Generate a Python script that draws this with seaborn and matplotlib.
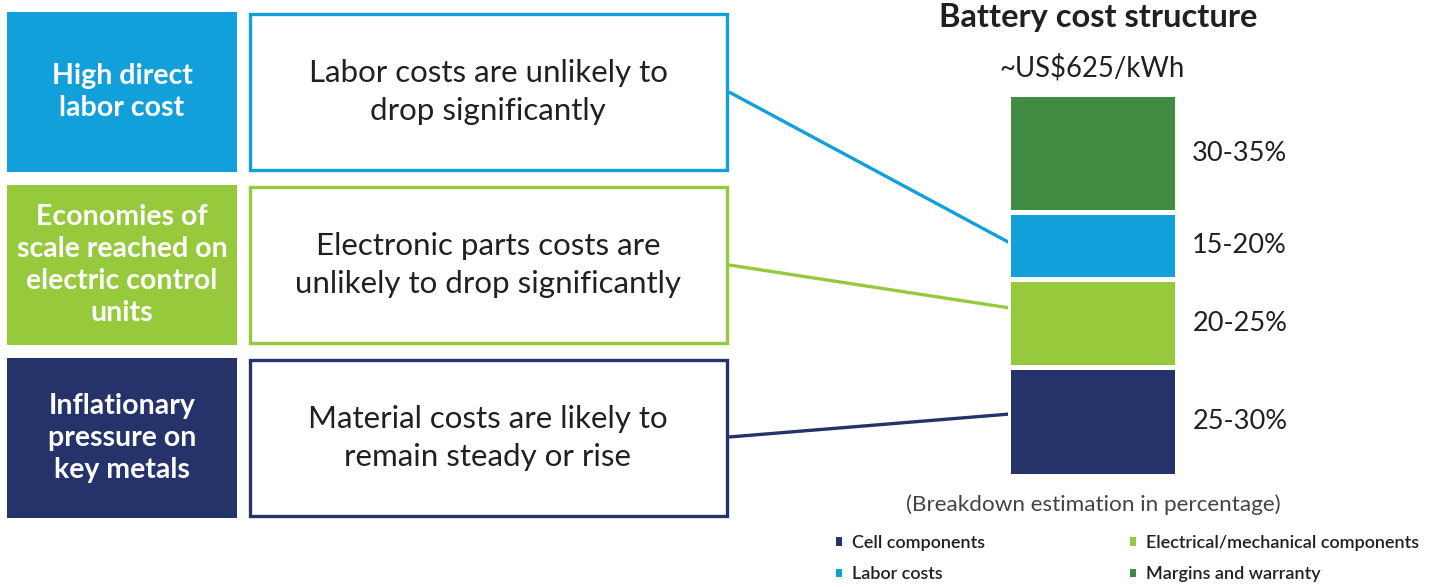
import matplotlib
matplotlib.use("Agg")
import matplotlib.pyplot as plt
import seaborn as sns
import pandas as pd
import numpy as np
from matplotlib.patches import Rectangle, Patch

sns.set_theme(style="white")
plt.rcParams['font.family'] = ['Lato', 'DejaVu Sans']

# data
components = ['Cell components', 'Electrical/mechanical components', 'Labor costs', 'Margins and warranty']
shares = [28.5, 23.0, 17.5, 31.0]          # midpoints of the printed ranges, bottom -> top
share_labels = ['25-30%', '20-25%', '15-20%', '30-35%']
colors = ['#26336B', '#97C93D', '#12A0DA', '#418B42']

drivers = ['High direct\nlabor cost',
           'Economies of\nscale reached on\nelectric control\nunits',
           'Inflationary\npressure on\nkey metals']
outlooks = ['Labor costs are unlikely to\ndrop significantly',
            'Electronic parts costs are\nunlikely to drop significantly',
            'Material costs are likely to\nremain steady or rise']
driver_colors = ['#12A0DA', '#97C93D', '#26336B']

txt = '#231F20'
W, H = 1429, 587
fig = plt.figure(figsize=(W / 100, H / 100), dpi=100)

# background canvas in pixel units for the boxes / connectors
bg = fig.add_axes([0, 0, 1, 1])
bg.set_xlim(0, W)
bg.set_ylim(H, 0)
bg.axis('off')

# stacked bar
bx0, bx1, by0, by1 = 1008, 1177, 94, 476
ax = fig.add_axes([bx0 / W, 1 - by1 / H, (bx1 - bx0) / W, (by1 - by0) / H])
df = pd.DataFrame({'part': components, 'share': shares})
df['top'] = df['share'].cumsum()
df['mid'] = df['top'] - df['share'] / 2
for i in range(len(df) - 1, -1, -1):
    sns.barplot(x=[0], y=[df['top'][i]], color=colors[i], width=1.0,
                edgecolor='white', linewidth=3.6, saturation=1, ax=ax)
ax.set_xlim(-0.5, 0.5)
ax.set_ylim(0, df['top'].iloc[-1])
ax.axis('off')
for i in range(len(df)):
    ax.annotate(share_labels[i], xy=(0.5, df['mid'][i]), xytext=(11, 0),
                textcoords='offset points', va='center', ha='left',
                fontsize=19.5, color=txt, annotation_clip=False)

# left-hand rows
rows_y = [(12, 172), (185, 345), (358, 518)]
for k, (y0, y1) in enumerate(rows_y):
    c = driver_colors[k]
    bg.add_patch(Rectangle((7, y0), 230, y1 - y0, facecolor=c, edgecolor='none'))
    bg.text(122, (y0 + y1) / 2, drivers[k], ha='center', va='center', color='white',
            fontsize=20.5, fontweight='bold', linespacing=1.28)
    bg.add_patch(Rectangle((250, y0 + 2), 477, y1 - y0 - 4, facecolor='white',
                           edgecolor=c, linewidth=2.4))
    bg.text(488, (y0 + y1) / 2, outlooks[k], ha='center', va='center', color=txt,
            fontsize=22.5, linespacing=1.45)
    # connector from the outlook box to the matching bar segment
    start_y = [92, 265, 437][k]
    end_y = [243, 308, 414][k]
    bg.plot([729, bx0 + 2], [start_y, end_y], color=c, linewidth=2.4, solid_capstyle='butt')

# titles
fig.text(1098 / W, 1 - 18 / H, 'Battery cost structure', ha='center', va='center',
         fontsize=23.5, fontweight='bold', color=txt)
fig.text(1092 / W, 1 - 68 / H, '~US$625/kWh', ha='center', va='center',
         fontsize=19.8, color=txt)
fig.text(1093 / W, 1 - 505 / H, '(Breakdown estimation in percentage)', ha='center',
         va='center', fontsize=16.2, color='#444444')

# legend (column-wise fill: cell, labor | electrical, margins)
order = [0, 2, 1, 3]
handles = [Patch(facecolor=colors[i], edgecolor='none', label=components[i]) for i in order]
leg = fig.legend(handles=handles, ncol=2, loc='upper left',
                 bbox_to_anchor=(836 / W, 1 - 535 / H), frameon=False,
                 borderpad=0, borderaxespad=0,
                 handlelength=0.35, handleheight=0.35, handletextpad=0.55,
                 columnspacing=8.0, labelspacing=0.85,
                 prop={'size': 13, 'weight': 'semibold'})
for t in leg.get_texts():
    t.set_color(txt)

fig.savefig('out.png', dpi=100, facecolor='white')
